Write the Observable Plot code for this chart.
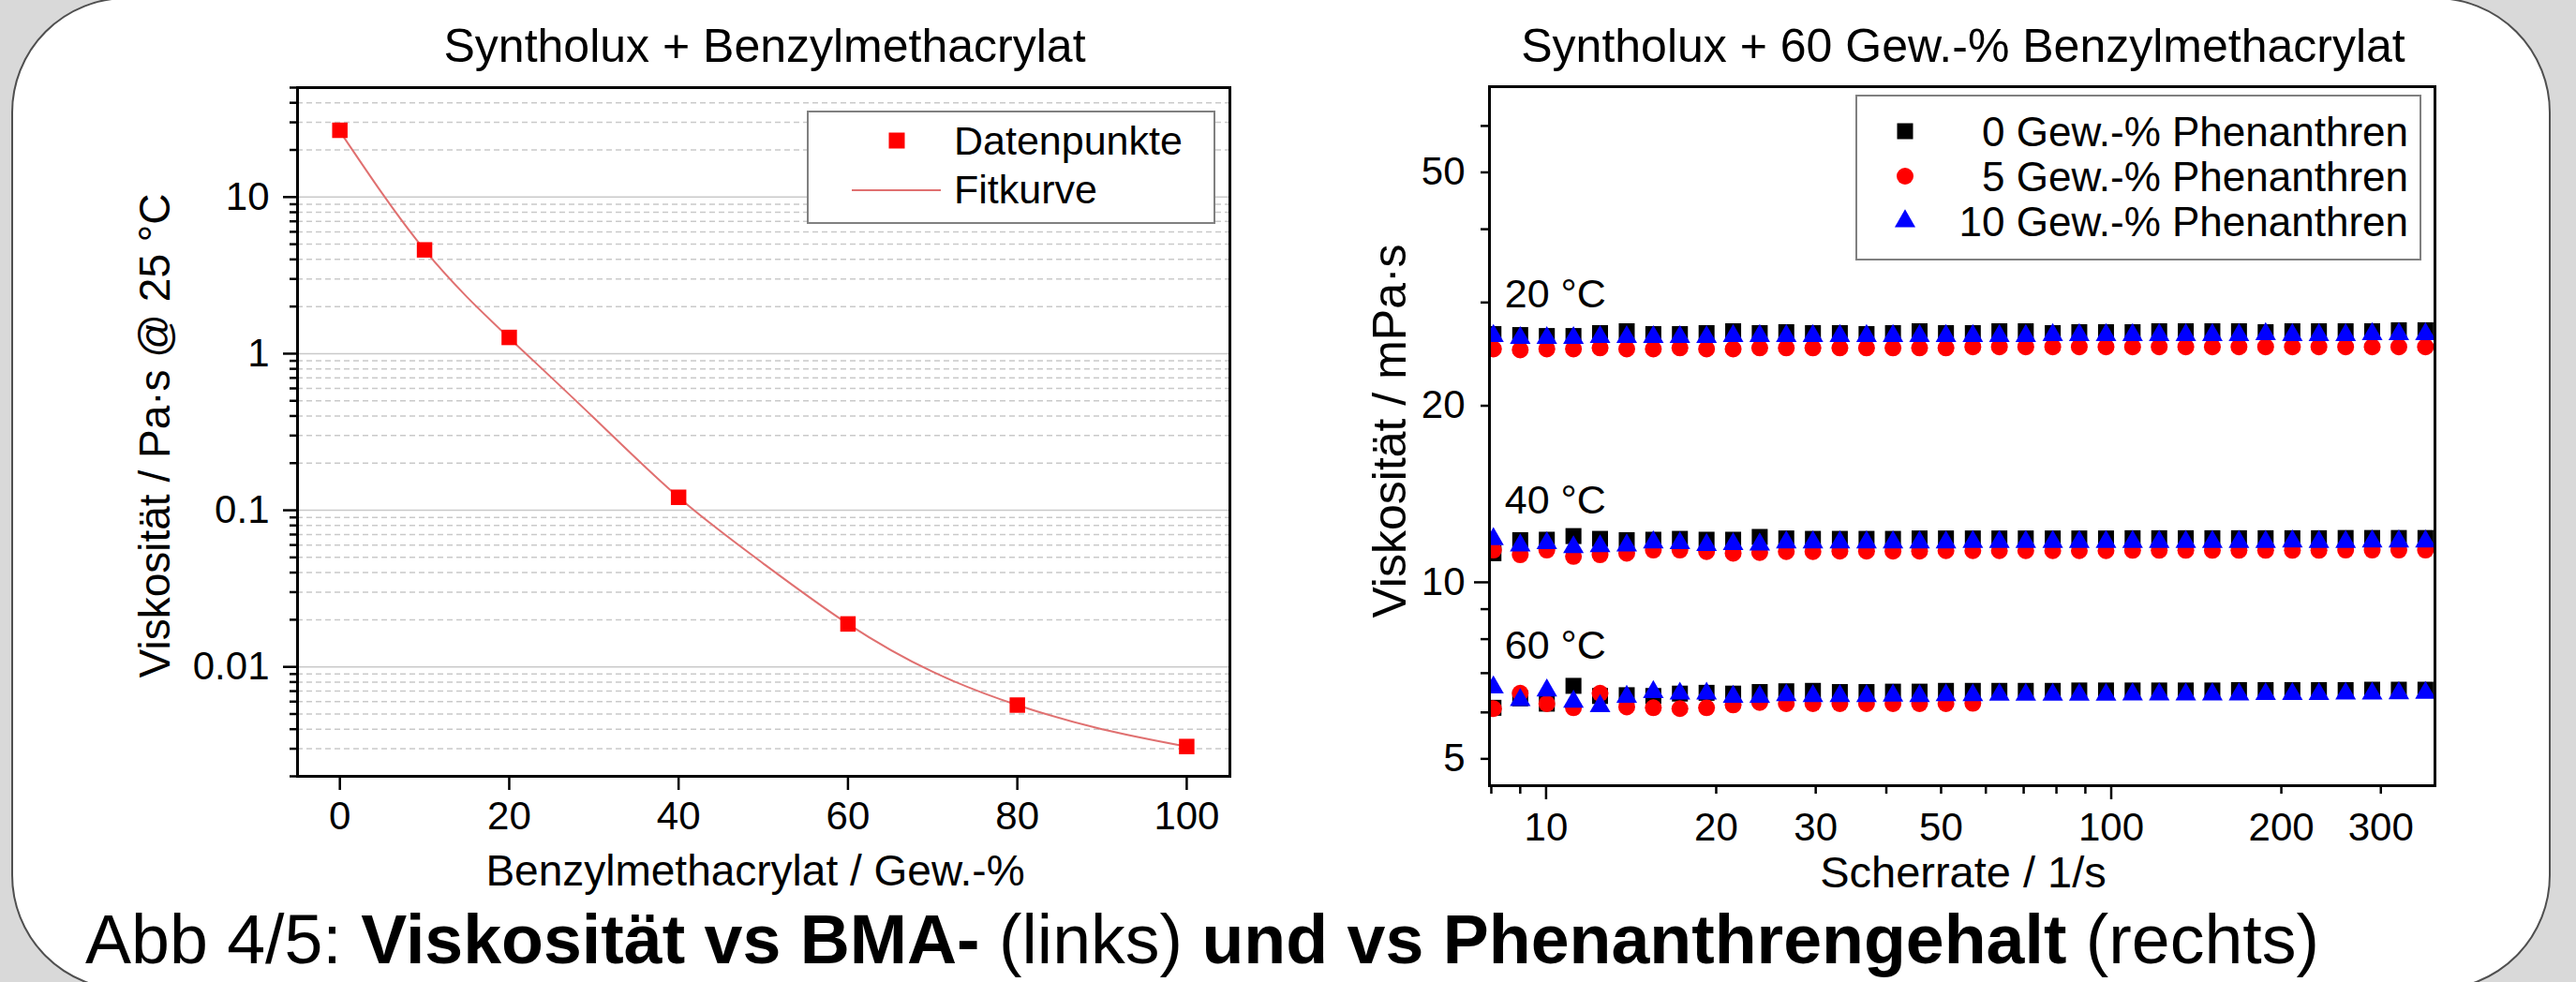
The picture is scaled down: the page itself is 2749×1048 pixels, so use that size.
<!DOCTYPE html>
<html>
<head>
<meta charset="utf-8">
<script src="https://cdn.jsdelivr.net/npm/d3@7"></script>
<script src="https://cdn.jsdelivr.net/npm/@observablehq/plot@0.6"></script>
<style>
html,body{margin:0;padding:0;}
body{width:2749px;height:1048px;overflow:hidden;background:#d9d9d9;font-family:'Liberation Sans',Arial,Helvetica,sans-serif;}
#page{position:relative;width:2749px;height:1048px;overflow:hidden;}
#panel{position:absolute;left:12px;top:-3px;width:2710px;height:1060px;box-sizing:border-box;border:2px solid #4f4f4f;border-radius:123px;background:#fff;}
#left,#right{position:absolute;top:0;}
#left{left:0;}
#right{left:1400px;}
#overlay{position:absolute;left:0;top:0;font-family:'Liberation Sans',Arial,Helvetica,sans-serif;}
</style>
</head>
<body>
<div id="page">
  <div id="panel"></div>
  <div id="left"></div>
  <div id="right"></div>
  <svg id="overlay" width="2749" height="1048" xmlns="http://www.w3.org/2000/svg"></svg>
</div>
<script>
const FONT = "'Liberation Sans', Arial, Helvetica, sans-serif";

// ---------- Left chart data ----------
const bmaContent   = [0, 10, 20, 40, 60, 80, 100];
const viscosity25  = [26.7, 4.6, 1.27, 0.121, 0.0188, 0.0057, 0.0031];
const fitBma       = [0, 10, 20, 30, 40, 50, 60, 70, 80, 90, 100];
const fitViscosity = [26.3, 4.6, 1.26, 0.389, 0.121, 0.0457, 0.0188, 0.0093, 0.0057, 0.0040, 0.0031];
const leftXTicks   = [0, 20, 40, 60, 80, 100];
const leftYMajor   = [0.01, 0.1, 1, 10];

// ---------- Right chart data ----------
const shearRate = [8.07, 9.00, 10.03, 11.18, 12.46, 13.89, 15.48, 17.25, 19.23, 21.43, 23.88, 26.61,
  29.66, 33.1, 36.9, 41.1, 45.8, 51.0, 56.9, 63.4, 70.6, 78.8, 87.8, 97.9, 109.1, 121.6, 135.5,
  151.0, 168.3, 187.6, 209.2, 233.1, 259.9, 289.6, 322.8, 359.8];

const visc0_20 = [26.5, 26.4, 26.3, 26.3, 26.6, 26.8, 26.5, 26.5, 26.6, 26.8, 26.6, 26.7, 26.6, 26.6, 26.5, 26.6, 26.8, 26.6,
  26.6, 26.8, 26.8, 26.6, 26.7, 26.7, 26.7, 26.8, 26.8, 26.8, 26.8, 26.7, 26.8, 26.8, 26.8, 26.8, 26.9, 26.9];
const visc5_20 = [25.0, 24.9, 25.0, 25.0, 25.1, 25.0, 25.0, 25.1, 25.0, 25.0, 25.1, 25.1, 25.1, 25.1, 25.1, 25.1, 25.1, 25.1,
  25.2, 25.2, 25.2, 25.2, 25.2, 25.2, 25.2, 25.2, 25.2, 25.2, 25.2, 25.2, 25.2, 25.2, 25.2, 25.2, 25.2, 25.2];
const visc10_20 = [26.3, 26.1, 26.1, 26.1, 26.2, 26.2, 26.2, 26.2, 26.2, 26.3, 26.3, 26.3, 26.3, 26.3, 26.3, 26.3, 26.3, 26.3,
  26.3, 26.3, 26.3, 26.4, 26.4, 26.4, 26.4, 26.4, 26.4, 26.4, 26.4, 26.5, 26.4, 26.4, 26.4, 26.5, 26.5, 26.5];

const visc0_40 = [11.21, 11.80, 11.82, 11.99, 11.86, 11.80, 11.82, 11.86, 11.82, 11.82, 11.95, 11.88, 11.86, 11.86, 11.86, 11.86,
  11.88, 11.88, 11.88, 11.88, 11.88, 11.88, 11.88, 11.88, 11.89, 11.89, 11.89, 11.89, 11.89, 11.89, 11.89, 11.89, 11.90, 11.90, 11.90, 11.90];
const visc5_40 = [11.35, 11.14, 11.35, 11.07, 11.14, 11.21, 11.35, 11.35, 11.28, 11.21, 11.24, 11.28, 11.28, 11.30, 11.30, 11.30,
  11.30, 11.32, 11.32, 11.32, 11.32, 11.32, 11.32, 11.32, 11.34, 11.34, 11.34, 11.34, 11.34, 11.34, 11.34, 11.34, 11.35, 11.35, 11.35, 11.35];
const visc10_40 = [11.85, 11.56, 11.66, 11.48, 11.52, 11.56, 11.70, 11.66, 11.58, 11.62, 11.60, 11.70, 11.70, 11.70, 11.70, 11.70,
  11.70, 11.70, 11.72, 11.72, 11.72, 11.72, 11.72, 11.72, 11.72, 11.72, 11.72, 11.72, 11.72, 11.72, 11.74, 11.72, 11.72, 11.74, 11.74, 11.74];

const visc0_60 = [6.11, 6.34, 6.21, 6.66, 6.40, 6.42, 6.40, 6.46, 6.48, 6.46, 6.50, 6.52, 6.53, 6.50, 6.50, 6.51, 6.51, 6.53,
  6.53, 6.53, 6.53, 6.53, 6.54, 6.54, 6.54, 6.54, 6.54, 6.54, 6.55, 6.55, 6.55, 6.55, 6.55, 6.56, 6.56, 6.56];
const visc5_60 = [6.09, 6.47, 6.21, 6.11, 6.47, 6.13, 6.11, 6.09, 6.11, 6.18, 6.24, 6.21, 6.21, 6.21, 6.21, 6.21, 6.21, 6.21, 6.22];
const visc10_60 = [6.62, 6.30, 6.54, 6.26, 6.15, 6.38, 6.50, 6.46, 6.46, 6.38, 6.38, 6.42, 6.40, 6.40, 6.40, 6.41, 6.40, 6.42,
  6.42, 6.43, 6.43, 6.43, 6.43, 6.43, 6.44, 6.44, 6.44, 6.44, 6.44, 6.45, 6.45, 6.45, 6.46, 6.46, 6.47, 6.48];

const tempLabels  = ["20 °C", "40 °C", "60 °C"];
const tempLabelX  = [8.45, 8.45, 8.45];
const tempLabelY  = [29.4, 13.08, 7.40];

const rightXLabels = [10, 20, 30, 50, 100, 200, 300];
const rightXMajor  = [10, 100];
const rightXMinor  = [8, 9, 20, 30, 40, 50, 60, 70, 80, 90, 200, 300];
const rightYLabels = [5, 10, 20, 50];
const rightYMajor  = [10];
const rightYMinor  = [5, 6, 7, 8, 9, 20, 30, 40, 50, 60];

// ---------- tables ----------
const bmaTable = bmaContent.map((b, i) => ({bma: b, visc: viscosity25[i]}));
const fitTable = fitBma.map((b, i) => ({bma: b, visc: fitViscosity[i]}));
const leftYMinor = [];
[0.001, 0.01, 0.1, 1, 10].forEach(dec => { for (let k = 2; k <= 9; k++) { const v = +(k * dec).toPrecision(3); if (v >= 0.002 && v <= 50) leftYMinor.push(v); } });

function series(vals) { return vals.map((v, i) => ({rate: shearRate[i], visc: v})); }
const black = [...series(visc0_20), ...series(visc0_40), ...series(visc0_60)];
const red   = [...series(visc5_20), ...series(visc5_40), ...series(visc5_60)];
const blue  = [...series(visc10_20), ...series(visc10_40), ...series(visc10_60)];

const TICK_W = 2.5;
const fmt = d => String(d);

// ---------- Left plot ----------
const leftPlot = Plot.plot({
  width: 1400, height: 1000,
  marginLeft: 317, marginRight: 88, marginTop: 93, marginBottom: 172,
  style: {background: "transparent", fontFamily: FONT, fontSize: "41px", color: "black", overflow: "visible"},
  x: {type: "linear", domain: [-5, 105.1]},
  y: {type: "log", domain: [0.002, 50]},
  marks: [
    Plot.gridY(leftYMinor, {stroke: "#c9c9c9", strokeOpacity: 1, strokeWidth: 1.5, strokeDasharray: "6,4"}),
    Plot.gridY(leftYMajor, {stroke: "#c9c9c9", strokeOpacity: 1, strokeWidth: 1.5}),
    Plot.line(fitTable, {x: "bma", y: "visc", stroke: "#e07070", strokeWidth: 2, curve: "natural"}),
    Plot.dot(bmaTable, {x: "bma", y: "visc", symbol: "square", r: 9.3, fill: "#ff0000", stroke: "none"}),
    Plot.axisY(leftYMinor, {tickSize: 8, strokeWidth: TICK_W, fill: "none", label: null}),
    Plot.axisY(leftYMajor, {tickSize: 15, tickPadding: 15, strokeWidth: TICK_W, tickFormat: fmt, fontSize: 42, label: null}),
    Plot.axisX(leftXTicks, {tickSize: 15, tickPadding: 12, strokeWidth: TICK_W, tickFormat: fmt, fontSize: 42, label: null}),
    Plot.frame({stroke: "black", strokeWidth: 3})
  ]
});
document.getElementById("left").appendChild(leftPlot);

// ---------- Right plot ----------
const rightPlot = Plot.plot({
  width: 1349, height: 1000,
  marginLeft: 189, marginRight: 151, marginTop: 92, marginBottom: 162,
  style: {background: "transparent", fontFamily: FONT, fontSize: "41px", color: "black", overflow: "visible"},
  x: {type: "log", domain: [7.94, 374]},
  y: {type: "log", domain: [4.5, 70]},
  marks: [
    Plot.text(tempLabels, {x: tempLabelX, y: tempLabelY, text: d => d, textAnchor: "start", lineAnchor: "bottom", fontSize: 43, fill: "black"}),
    Plot.dot(black, {x: "rate", y: "visc", symbol: "square", r: 9.6, fill: "black", stroke: "none", clip: true}),
    Plot.dot(red, {x: "rate", y: "visc", symbol: "circle", r: 9, fill: "#ff0000", stroke: "none", clip: true}),
    Plot.dot(blue, {x: "rate", y: "visc", symbol: "triangle", r: 8.2, fill: "#0000ff", stroke: "none", clip: true}),
    Plot.axisY(rightYMinor, {tickSize: 9, strokeWidth: TICK_W, fill: "none", label: null}),
    Plot.axisY(rightYMajor, {tickSize: 16, strokeWidth: TICK_W, fill: "none", label: null}),
    Plot.axisY(rightYLabels, {tickSize: 0, tickPadding: 26, tickFormat: fmt, fontSize: 42, label: null}),
    Plot.axisX(rightXMinor, {tickSize: 9, strokeWidth: TICK_W, fill: "none", label: null}),
    Plot.axisX(rightXMajor, {tickSize: 15, strokeWidth: TICK_W, fill: "none", label: null}),
    Plot.axisX(rightXLabels, {tickSize: 0, tickPadding: 29, tickFormat: fmt, fontSize: 42, label: null}),
    Plot.frame({stroke: "black", strokeWidth: 3})
  ]
});
document.getElementById("right").appendChild(rightPlot);

// ---------- Titles, axis titles, legends, caption ----------
const ov = d3.select("#overlay");
function txt(x, y, s, size, anchor = "middle", weight = "normal", transform = null) {
  const t = ov.append("text").attr("x", x).attr("y", y).attr("font-size", size)
    .attr("text-anchor", anchor).attr("font-weight", weight).attr("fill", "black").text(s);
  if (transform) t.attr("transform", transform);
  return t;
}
// chart titles
txt(816, 66, "Syntholux + Benzylmethacrylat", 50);
txt(2095, 66, "Syntholux + 60 Gew.-% Benzylmethacrylat", 50);
// axis titles
txt(806, 945, "Benzylmethacrylat / Gew.-%", 46);
txt(2095, 947, "Scherrate / 1/s", 47);
txt(0, 0, "Viskosität / Pa·s @ 25 °C", 46, "middle", "normal", "translate(181,465) rotate(-90)");
txt(0, 0, "Viskosität / mPa·s", 50, "middle", "normal", "translate(1500,460) rotate(-90)");

// left legend
ov.append("rect").attr("x", 862).attr("y", 119).attr("width", 434).attr("height", 119)
  .attr("fill", "white").attr("stroke", "#808080").attr("stroke-width", 2);
ov.append("rect").attr("x", 948.5).attr("y", 141.5).attr("width", 17).attr("height", 17).attr("fill", "#ff0000");
txt(1018, 165, "Datenpunkte", 43, "start");
ov.append("line").attr("x1", 909).attr("x2", 1004).attr("y1", 203).attr("y2", 203)
  .attr("stroke", "#e07070").attr("stroke-width", 2);
txt(1018, 217, "Fitkurve", 43, "start");

// right legend
ov.append("rect").attr("x", 1981).attr("y", 102).attr("width", 602).attr("height", 175)
  .attr("fill", "white").attr("stroke", "#808080").attr("stroke-width", 2);
const legendNames = ["0 Gew.-% Phenanthren", "5 Gew.-% Phenanthren", "10 Gew.-% Phenanthren"];
const legendBase = [156, 204, 252];
ov.append("rect").attr("x", 2033 - 8.5).attr("y", legendBase[0] - 16 - 8.5).attr("width", 17).attr("height", 17).attr("fill", "black");
ov.append("circle").attr("cx", 2033).attr("cy", legendBase[1] - 16).attr("r", 9).attr("fill", "#ff0000");
ov.append("path").attr("d", d3.symbol(d3.symbolTriangle, 8.2 * 8.2 * Math.PI)()).attr("transform", `translate(2033,${legendBase[2] - 16})`).attr("fill", "#0000ff");
legendNames.forEach((n, i) => txt(2570, legendBase[i], n, 44, "end"));

// caption
const cap = ov.append("text").attr("x", 91).attr("y", 1028).attr("font-size", 73.5).attr("fill", "black");
cap.append("tspan").text("Abb 4/5: ");
cap.append("tspan").attr("font-weight", "bold").text("Viskosität vs BMA-");
cap.append("tspan").text(" (links) ");
cap.append("tspan").attr("font-weight", "bold").text("und vs Phenanthrengehalt");
cap.append("tspan").text(" (rechts)");
</script>
</body>
</html>
